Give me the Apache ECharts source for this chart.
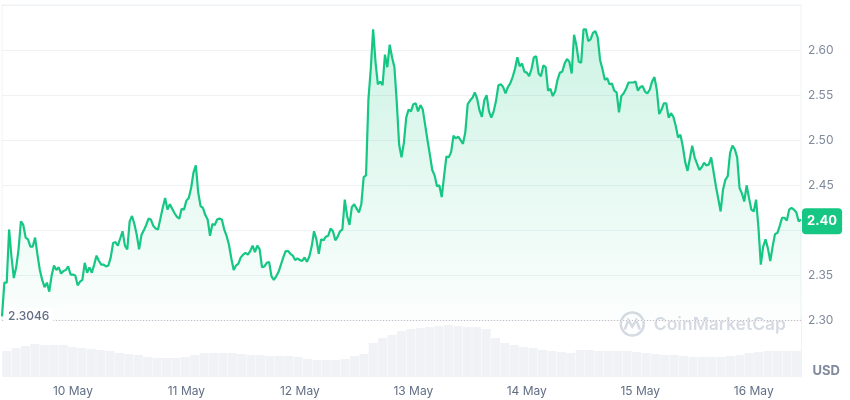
<!DOCTYPE html>
<html><head><meta charset="utf-8">
<script src="https://cdn.jsdelivr.net/npm/echarts@6/dist/echarts.min.js"></script>
<style>html,body{margin:0;padding:0;background:#fff}#c{width:850px;height:400px}</style>
</head><body><div id="c"></div>
<script>
// ---- data ----
const startTimeUTC = Date.UTC(2024, 4, 9, 9, 0); // 9 May 09:00
const priceStepMinutes = 30;
const volumeStepMinutes = 120;
const monthNames = ['Jan','Feb','Mar','Apr','May','Jun','Jul','Aug','Sep','Oct','Nov','Dec'];

const prices = [
  2.3046, 2.342, 2.342, 2.401, 2.371, 2.347, 2.359, 2.379, 2.410, 2.406,
  2.392, 2.390, 2.382, 2.382, 2.392, 2.373, 2.356, 2.345, 2.337, 2.342,
  2.332, 2.350, 2.361, 2.356, 2.359, 2.352, 2.355, 2.356, 2.360, 2.351,
  2.351, 2.350, 2.339, 2.343, 2.345, 2.364, 2.353, 2.359, 2.353, 2.362,
  2.372, 2.366, 2.362, 2.362, 2.360, 2.361, 2.370, 2.386, 2.387, 2.383,
  2.391, 2.399, 2.383, 2.379, 2.410, 2.416, 2.407, 2.395, 2.379, 2.395,
  2.400, 2.406, 2.413, 2.412, 2.405, 2.402, 2.401, 2.413, 2.425, 2.436,
  2.423, 2.429, 2.424, 2.419, 2.415, 2.413, 2.424, 2.423, 2.433, 2.436,
  2.447, 2.464, 2.472, 2.442, 2.427, 2.425, 2.417, 2.412, 2.394, 2.407,
  2.406, 2.412, 2.413, 2.412, 2.401, 2.394, 2.384, 2.369, 2.356, 2.361,
  2.363, 2.370, 2.373, 2.375, 2.373, 2.377, 2.383, 2.376, 2.383, 2.379,
  2.359, 2.360, 2.364, 2.365, 2.349, 2.345, 2.349, 2.354, 2.362, 2.370,
  2.377, 2.377, 2.374, 2.372, 2.367, 2.369, 2.367, 2.366, 2.370, 2.365,
  2.371, 2.382, 2.399, 2.390, 2.374, 2.390, 2.389, 2.393, 2.394, 2.402,
  2.399, 2.389, 2.393, 2.399, 2.401, 2.434, 2.416, 2.406, 2.426, 2.429,
  2.424, 2.420, 2.429, 2.459, 2.461, 2.545, 2.579, 2.623, 2.587, 2.562,
  2.565, 2.561, 2.595, 2.581, 2.606, 2.592, 2.581, 2.542, 2.495, 2.481,
  2.497, 2.525, 2.534, 2.532, 2.540, 2.541, 2.532, 2.539, 2.534, 2.517,
  2.500, 2.484, 2.467, 2.461, 2.449, 2.450, 2.437, 2.460, 2.482, 2.481,
  2.487, 2.505, 2.502, 2.504, 2.500, 2.496, 2.509, 2.540, 2.544, 2.547,
  2.553, 2.546, 2.533, 2.526, 2.544, 2.550, 2.532, 2.525, 2.532, 2.544,
  2.561, 2.562, 2.559, 2.552, 2.559, 2.563, 2.570, 2.579, 2.592, 2.582,
  2.585, 2.576, 2.575, 2.571, 2.579, 2.592, 2.593, 2.574, 2.571, 2.583,
  2.581, 2.555, 2.557, 2.549, 2.554, 2.567, 2.575, 2.576, 2.585, 2.590,
  2.587, 2.574, 2.617, 2.605, 2.587, 2.586, 2.623, 2.623, 2.610, 2.612,
  2.619, 2.621, 2.614, 2.589, 2.579, 2.567, 2.569, 2.562, 2.563, 2.555,
  2.553, 2.531, 2.549, 2.552, 2.557, 2.564, 2.564, 2.564, 2.565, 2.555,
  2.559, 2.560, 2.554, 2.552, 2.556, 2.565, 2.570, 2.556, 2.529, 2.534,
  2.541, 2.541, 2.525, 2.530, 2.526, 2.516, 2.503, 2.506, 2.493, 2.476,
  2.466, 2.480, 2.494, 2.481, 2.474, 2.467, 2.470, 2.475, 2.472, 2.473,
  2.481, 2.465, 2.449, 2.435, 2.421, 2.445, 2.456, 2.460, 2.486, 2.494,
  2.490, 2.481, 2.447, 2.441, 2.432, 2.450, 2.436, 2.423, 2.421, 2.434,
  2.403, 2.362, 2.382, 2.390, 2.380, 2.366, 2.382, 2.396, 2.397, 2.405,
  2.414, 2.414, 2.411, 2.423, 2.425, 2.423, 2.420, 2.410, 2.412
];

const volumes = [
  26, 29, 31, 33, 32, 32, 32, 30, 29, 28,
  27, 26, 24, 23, 22, 20, 19, 19, 19, 20,
  22, 24, 24, 24, 24, 23, 22, 22, 21, 21,
  21, 20, 18, 17, 17, 17, 18, 21, 23, 34,
  39, 42, 46, 48, 49, 50, 51, 52, 51, 50,
  50, 48, 39, 34, 32, 30, 29, 27, 26, 25,
  24, 27, 27, 26, 26, 26, 26, 25, 24, 23,
  22, 22, 21, 20, 20, 20, 20, 21, 22, 24,
  25, 26, 26, 26, 26
];

const openPrice = 2.3046;
const openLabel = '2.3046';
const lastLabel = '2.40';
const yMin = 2.30, yMax = 2.65, yStep = 0.05;
const volumeMax = 60;
const currency = 'USD';

// ---- build ----
function pad(n){ return (n < 10 ? '0' : '') + n; }
function stamp(ms){
  const d = new Date(ms);
  return d.getUTCFullYear() + '-' + pad(d.getUTCMonth()+1) + '-' + pad(d.getUTCDate()) + ' ' + pad(d.getUTCHours()) + ':' + pad(d.getUTCMinutes());
}
const priceTimes = prices.map((_, i) => stamp(startTimeUTC + i * priceStepMinutes * 60000));
const volumeTimes = volumes.map((_, i) => stamp(startTimeUTC + i * volumeStepMinutes * 60000));
function dayLabel(v){
  const parts = v.split(' ')[0].split('-');
  return parseInt(parts[2], 10) + ' ' + monthNames[parseInt(parts[1], 10) - 1];
}

const green = '#16c784';
const gridLine = '#eff2f5';
const font = 'Inter';

const chart = echarts.init(document.getElementById('c'), null, {renderer: 'canvas'});
chart.setOption({
  animation: false,
  backgroundColor: '#fff',
  textStyle: {fontFamily: font},
  title: {
    text: currency, right: 10, top: 365, padding: 0,
    textStyle: {fontSize: 13, fontWeight: 'bold', color: '#808a9d', fontFamily: font}
  },
  graphic: [{
    type: 'group', right: 64, top: 310, z: 0, silent: true,
    children: [
      {type: 'circle', shape: {cx: 12.5, cy: 12.5, r: 11.5}, style: {fill: 'none', stroke: '#d6dbe3', lineWidth: 2.5}},
      {type: 'polyline', shape: {points: [[5, 18], [8.5, 8.5], [12.5, 15], [16.5, 8.5], [20, 18]]}, style: {fill: 'none', stroke: '#d6dbe3', lineWidth: 2.5}},
      {type: 'text', x: 34, y: 13, style: {text: 'CoinMarketCap', fill: '#d6dbe3', font: '600 17.5px Inter', verticalAlign: 'middle'}}
    ]
  }],
  grid: [
    {left: 2, right: 49, top: 5, height: 315.5, show: true, borderColor: gridLine, borderWidth: 1, backgroundColor: 'transparent'},
    {left: 2, right: 49, top: 317, height: 60}
  ],
  xAxis: [
    {
      type: 'category', gridIndex: 0, data: priceTimes, boundaryGap: false,
      axisLine: {show: false}, axisTick: {show: false}, splitLine: {show: false},
      axisLabel: {
        interval: (idx, val) => val.endsWith('00:00'),
        formatter: dayLabel, margin: 65, color: '#616e85', fontSize: 12, fontFamily: font
      }
    },
    {
      type: 'category', gridIndex: 1, data: volumeTimes, boundaryGap: true,
      axisLine: {show: false}, axisTick: {show: false}, axisLabel: {show: false}, splitLine: {show: false}
    }
  ],
  yAxis: [
    {
      type: 'value', gridIndex: 0, position: 'right', min: yMin, max: yMax, interval: yStep,
      axisLine: {show: false}, axisTick: {show: false},
      splitLine: {lineStyle: {color: gridLine, width: 1}},
      axisLabel: {
        margin: 7, color: '#808a9d', fontSize: 12, fontFamily: font, showMaxLabel: false,
        formatter: v => v.toFixed(2)
      }
    },
    {
      type: 'value', gridIndex: 1, position: 'right', min: 0, max: volumeMax,
      axisLine: {show: true, lineStyle: {color: gridLine}}, axisTick: {show: false},
      axisLabel: {show: false}, splitLine: {show: false}
    }
  ],
  series: [
    {
      type: 'bar', xAxisIndex: 1, yAxisIndex: 1, data: volumes,
      barCategoryGap: '4%', itemStyle: {color: '#f0f2f5'}, silent: true, z: 1
    },
    {
      type: 'line', xAxisIndex: 0, yAxisIndex: 0, data: prices,
      showSymbol: false, symbol: 'none', smooth: false, z: 3,
      lineStyle: {color: green, width: 2.2},
      areaStyle: {
        color: new echarts.graphic.LinearGradient(0, 0, 0, 1, [
          {offset: 0, color: 'rgba(22,199,132,0.30)'},
          {offset: 1, color: 'rgba(22,199,132,0.02)'}
        ])
      },
      markLine: {
        silent: true, symbol: 'none', animation: false,
        data: [
          {
            yAxis: openPrice,
            lineStyle: {color: '#c9bcc6', type: [1, 2], width: 1},
            label: {show: false}
          },
          {
            yAxis: prices[prices.length - 1],
            lineStyle: {color: 'rgba(0,0,0,0)', width: 1, type: 'solid'},
            label: {
              show: true, position: 'end', distance: 1,
              formatter: () => lastLabel,
              backgroundColor: green, color: '#fff', fontWeight: 'bold', fontSize: 13,
              fontFamily: font, padding: [7, 5, 6, 5], borderRadius: 4
            }
          }
        ]
      },
      markPoint: {
        silent: true, symbol: 'circle', symbolSize: 0, animation: false,
        data: [{
          coord: [0, openPrice],
          label: {
            show: true, position: 'right', distance: 2,
            formatter: () => openLabel,
            color: '#616e85', fontSize: 12, fontWeight: 500, fontFamily: font,
            backgroundColor: '#fff', padding: [2, 4]
          }
        }]
      }
    }
  ]
});
</script>
</body></html>
